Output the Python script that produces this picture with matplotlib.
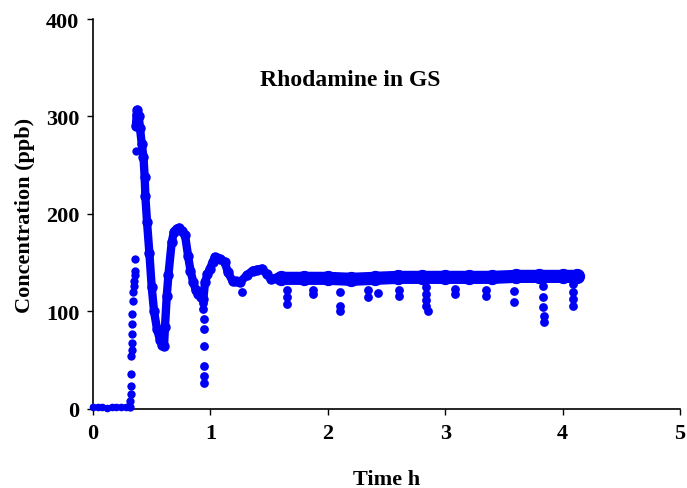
import matplotlib.pyplot as plt

# --- data ---
# baseline before the tracer arrives
base_t = [0.0, 0.04, 0.08, 0.12, 0.16, 0.20, 0.24, 0.28, 0.31]
base_c = [2, 2, 2, 1, 2, 2, 2, 2, 3]

# rising front (separate dots)
rise_t = [0.315, 0.318, 0.32, 0.322, 0.324, 0.326, 0.328, 0.33, 0.332, 0.334,
          0.336, 0.338, 0.342, 0.346, 0.35, 0.354, 0.356, 0.358, 0.362]
rise_c = [2, 8, 15, 24, 36, 54, 60, 68, 77, 87,
          97, 111, 120, 126, 131, 137, 142, 154, 265]

# main transient trace
trans_t = [0.365, 0.372, 0.378, 0.39, 0.40, 0.415, 0.43, 0.44, 0.446, 0.46,
           0.48, 0.50, 0.52, 0.545, 0.57, 0.59, 0.605, 0.613, 0.628, 0.642,
           0.67, 0.69, 0.713, 0.735, 0.755, 0.784, 0.81, 0.83, 0.854, 0.875,
           0.897, 0.92, 0.94, 0.954, 0.975, 0.997, 1.02, 1.04, 1.06, 1.08,
           1.12, 1.15, 1.19, 1.22, 1.25, 1.31, 1.36, 1.40, 1.44, 1.48,
           1.52, 1.56, 1.60]
trans_c = [290, 302, 307, 300, 288, 272, 258, 238, 218, 192,
           160, 125, 100, 82, 71, 66, 65, 84, 116, 137,
           171, 182, 185, 186, 183, 178, 157, 142, 130, 122,
           118, 115, 113, 130, 138, 144, 151, 156, 155, 154,
           151, 140, 131, 131, 130, 137, 142, 143, 144, 138,
           133, 134, 134]

# plateau
flat_t = [1.60, 1.80, 2.00, 2.20, 2.40, 2.60, 2.80, 3.00, 3.20, 3.40,
          3.60, 3.80, 4.00, 4.12]
flat_c = [134, 134, 134, 133, 134, 135, 135, 135, 135, 135,
          136, 136, 136, 136]

# isolated low readings (dips below the trace)
dip_t = [0.94, 0.94, 0.942, 0.942, 0.944, 0.944, 0.946, 0.946,
         1.27,
         1.65, 1.65, 1.65,
         1.87, 1.87,
         2.10, 2.10, 2.10,
         2.34, 2.34,
         2.43,
         2.61, 2.61,
         2.84, 2.84, 2.84, 2.84, 2.85,
         3.08, 3.08,
         3.35, 3.35,
         3.59, 3.59,
         3.83, 3.83, 3.83, 3.84, 3.84,
         4.09, 4.09, 4.09, 4.09]
dip_c = [109, 103, 92, 82, 65, 44, 34, 27,
         120,
         122, 115, 108,
         122, 118,
         120, 106, 100,
         122, 115,
         119,
         122, 116,
         125, 118, 112, 106, 100,
         123, 118,
         122, 116,
         121, 110,
         126, 115, 105, 95, 89,
         128, 120, 113, 106]

x_ticks = [0, 1, 2, 3, 4, 5]
y_ticks = [0, 100, 200, 300, 400]

BLUE = '#0000f5'
FONT = 'Liberation Serif'

fig = plt.figure(figsize=(6.87, 4.89), dpi=100)
ax = fig.add_axes([0.1354, 0.1616, 0.8544, 0.7975])

ax.plot(base_t, base_c, color=BLUE, lw=3.5, marker='o', ms=4.5, clip_on=False, zorder=3)
ax.scatter(rise_t, rise_c, s=36, color=BLUE, clip_on=False, zorder=3, linewidths=0)
ax.plot(trans_t, trans_c, color=BLUE, lw=6, marker='o', ms=6.5,
        solid_capstyle='round', solid_joinstyle='round', zorder=3)
ax.plot(flat_t, flat_c, color=BLUE, lw=9.5, marker='o', ms=10,
        solid_capstyle='round', zorder=3)
ax.scatter(dip_t, dip_c, s=40, color=BLUE, zorder=3, linewidths=0)

ax.set_xlim(0, 5)
ax.set_ylim(0, 400)
ax.set_xticks(x_ticks)
ax.set_yticks(y_ticks)

for side in ['top', 'right']:
    ax.spines[side].set_visible(False)
for side in ['left', 'bottom']:
    ax.spines[side].set_linewidth(1.2)

ax.tick_params(direction='out', length=4, width=1, pad=6)
for lab in ax.get_xticklabels() + ax.get_yticklabels():
    lab.set_fontfamily(FONT)
    lab.set_fontweight('bold')
    lab.set_fontsize(16)

ax.set_xlabel('Time h', fontfamily=FONT, fontweight='bold', fontsize=16, labelpad=19)
ax.set_ylabel('Concentration (ppb)', fontfamily=FONT, fontweight='bold', fontsize=16, labelpad=8)
ax.text(2.19, 338, 'Rhodamine in GS', ha='center', va='center',
        fontfamily=FONT, fontweight='bold', fontsize=17)

plt.savefig('out.png', dpi=100)
